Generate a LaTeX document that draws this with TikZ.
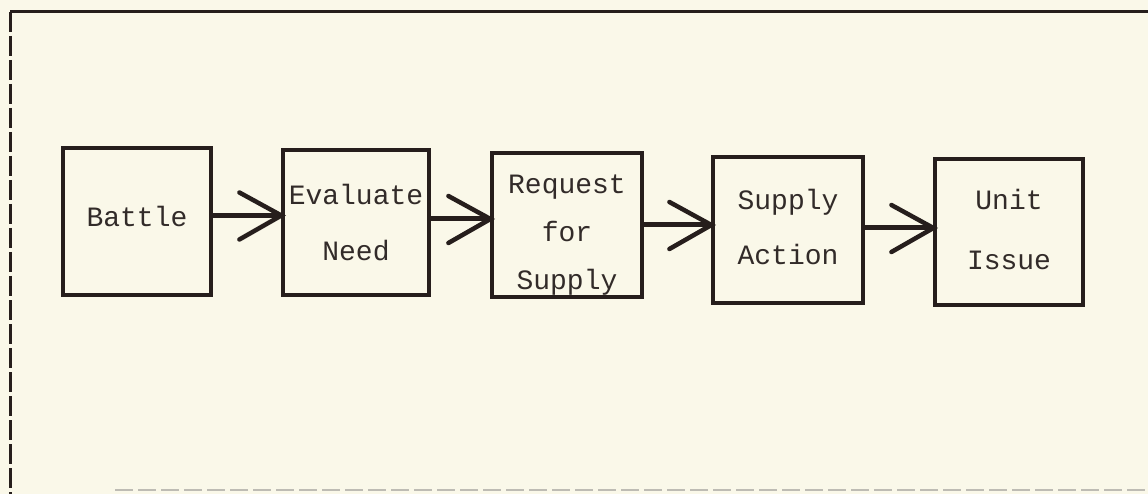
\documentclass[tikz,border=0pt]{standalone}
\usepackage{fontspec}
\setmonofont{Liberation Mono}
\definecolor{paper}{RGB}{250,248,233}
\definecolor{ink}{RGB}{38,30,28}
\definecolor{textink}{RGB}{50,43,41}
\definecolor{faint}{RGB}{190,188,180}
\tikzset{
  stepbox/.style={draw=ink, line width=3.2pt, inner sep=0pt, minimum width=#1},
  boxlabel/.style={text=textink, align=center, inner sep=0pt},
  shaft/.style={draw=ink, line width=5pt},
  barb/.style={draw=ink, line width=4.5pt, line cap=round},
  frameline/.style={draw=ink, line width=3pt},
}
\newcommand{\boxtext}[1]{\ttfamily\fontsize{28}{#1}\selectfont}
\newcommand{\flowarrow}[3]{% from node, to node, yshift
  \coordinate (#1-out) at ([yshift=#3]#1.east);
  \coordinate (#2-in) at (#1-out -| #2.west);
  \draw[shaft] (#1-out) -- (#2-in);
  \draw[barb] ([xshift=-42pt,yshift=23pt]#2-in) -- (#2-in) -- ([xshift=-42pt,yshift=-24pt]#2-in);
}
\begin{document}
\begin{tikzpicture}[x=1pt,y=-1pt]
\fill[paper] (0,0) rectangle (1148,494);
\useasboundingbox (0,0) rectangle (1148,494);
% frame
\draw[frameline] (10,12) -- (1148,12);
\draw[frameline, dash pattern=on 20pt off 4pt] (10,12) -- (10,494);
\draw[draw=faint, line width=2pt, dash pattern=on 18pt off 5pt] (115,490) -- (1148,490);
% boxes
\node[stepbox=148pt, minimum height=147pt] (battle) at (137,221.5) {};
\node[stepbox=146pt, minimum height=145pt] (eval) at (356,222.5) {};
\node[stepbox=150pt, minimum height=144pt] (req) at (567,225) {};
\node[stepbox=150pt, minimum height=146pt] (supply) at (788,230) {};
\node[stepbox=148pt, minimum height=146pt] (unit) at (1009,232) {};
% labels
\node[boxlabel, font=\boxtext{56}] (battle-t) at ([yshift=5pt]battle.center) {Battle};
\node[boxlabel, font=\boxtext{56}] (eval-t) at (eval.center) {Evaluate\\Need};
\node[boxlabel, font=\boxtext{48}] (req-t) at ([yshift=-10pt]req.center) {Request\\for\\Supply};
\node[boxlabel, font=\boxtext{55}] (supply-t) at ([yshift=3pt]supply.center) {Supply\\Action};
\node[boxlabel, font=\boxtext{60}] (unit-t) at ([yshift=3pt]unit.center) {Unit\\Issue};
% arrows
\flowarrow{battle}{eval}{6pt}
\flowarrow{eval}{req}{3.5pt}
\flowarrow{req}{supply}{0pt}
\flowarrow{supply}{unit}{2pt}
\end{tikzpicture}
\end{document}
